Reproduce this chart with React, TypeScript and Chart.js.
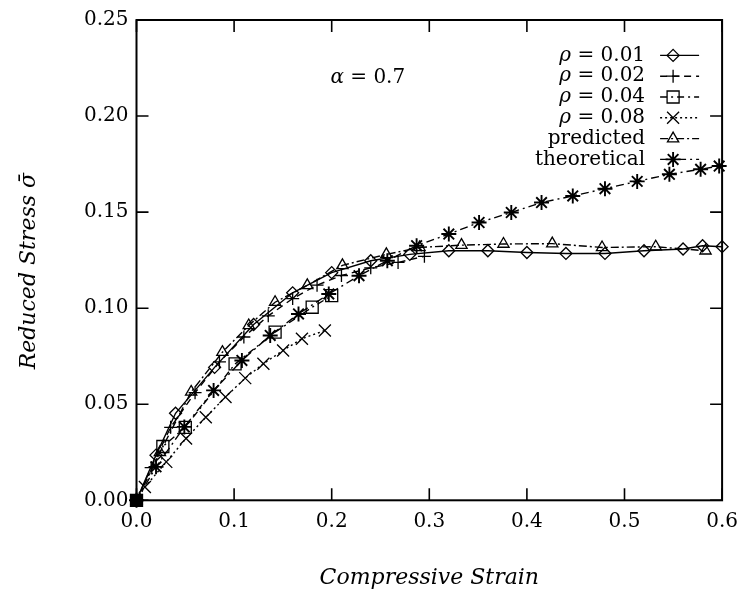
import React, { useEffect, useRef } from 'react';
import { Chart, registerables } from 'chart.js';
import { drawPoint } from 'chart.js/helpers';

Chart.register(...registerables);

// ---- axis ticks ----
const xTicks = [0, 0.1, 0.2, 0.3, 0.4, 0.5, 0.6];
const yTicks = [0, 0.05, 0.1, 0.15, 0.2, 0.25];

// ---- series (strain, reduced stress) ----
const rho001X = [0, 0.02, 0.04, 0.08, 0.12, 0.16, 0.2, 0.24, 0.28, 0.32, 0.36, 0.4, 0.44, 0.48, 0.52, 0.56, 0.58, 0.6];
const rho001Y = [0, 0.0235, 0.0453, 0.0692, 0.0915, 0.108, 0.1185, 0.1247, 0.128, 0.1299, 0.1299, 0.129, 0.1285, 0.1285, 0.1299, 0.1308, 0.1325, 0.132];

const rho002X = [0, 0.015, 0.035, 0.06, 0.085, 0.11, 0.135, 0.16, 0.185, 0.21, 0.24, 0.268, 0.295];
const rho002Y = [0, 0.017, 0.038, 0.056, 0.072, 0.085, 0.096, 0.105, 0.112, 0.117, 0.121, 0.1238, 0.127];

const rho004X = [0, 0.027, 0.05, 0.101, 0.142, 0.18, 0.2];
const rho004Y = [0, 0.028, 0.038, 0.071, 0.0875, 0.1005, 0.1065];

const rho008X = [0, 0.0086, 0.0305, 0.0508, 0.071, 0.0912, 0.1114, 0.13, 0.1502, 0.1695, 0.193];
const rho008Y = [0, 0.0069, 0.02, 0.0322, 0.0432, 0.0538, 0.0636, 0.0711, 0.078, 0.0841, 0.0884];

const predictedX = [0, 0.024, 0.056, 0.088, 0.115, 0.142, 0.175, 0.211, 0.256, 0.29, 0.333, 0.376, 0.426, 0.477, 0.532, 0.583];
const predictedY = [0, 0.025, 0.0564, 0.0771, 0.091, 0.1031, 0.1119, 0.1223, 0.128, 0.1316, 0.1328, 0.1334, 0.1336, 0.1316, 0.132, 0.1299];

const theoreticalX = [0, 0.02, 0.049, 0.079, 0.108, 0.137, 0.166, 0.197, 0.228, 0.257, 0.287, 0.32, 0.351, 0.384, 0.415, 0.447, 0.48, 0.513, 0.546, 0.578, 0.597];
const theoreticalY = [0, 0.0174, 0.0382, 0.0572, 0.0728, 0.0858, 0.097, 0.1074, 0.1169, 0.1247, 0.1325, 0.1386, 0.1446, 0.1498, 0.155, 0.1584, 0.1622, 0.166, 0.1697, 0.1723, 0.174];

const seriesLabels = ['ρ = 0.01', 'ρ = 0.02', 'ρ = 0.04', 'ρ = 0.08', 'predicted', 'theoretical'];

// annotation (data coordinates)
const alphaText = ['α', ' = 0.7'];
const alphaPos = { x: 0.237, y: 0.2197 };

const SERIF = '"DejaVu Serif", "Liberation Serif", serif';

const pts = (xs: number[], ys: number[]) => xs.map((x, i) => ({ x, y: ys[i] }));

function drawMixed(
  ctx: CanvasRenderingContext2D,
  parts: { t: string; italic: boolean }[],
  x: number,
  y: number,
  align: 'right' | 'center',
  size: number
) {
  const fonts = parts.map((p) => `${p.italic ? 'italic ' : ''}${size}px ${SERIF}`);
  let total = 0;
  const widths = parts.map((p, i) => {
    ctx.font = fonts[i];
    const w = ctx.measureText(p.t).width;
    total += w;
    return w;
  });
  let cx = align === 'right' ? x - total : x - total / 2;
  ctx.textAlign = 'left';
  ctx.textBaseline = 'middle';
  ctx.fillStyle = '#000';
  parts.forEach((p, i) => {
    ctx.font = fonts[i];
    ctx.fillText(p.t, cx, y);
    cx += widths[i];
  });
}

const framePlugin = {
  id: 'frameLegend',
  afterDraw(chart: any) {
    const { ctx, chartArea: a, scales } = chart;
    const xs = scales.x;
    const ys = scales.y;
    ctx.save();
    ctx.strokeStyle = '#000';
    ctx.setLineDash([]);
    ctx.lineWidth = 2;
    ctx.strokeRect(a.left, a.top, a.right - a.left, a.bottom - a.top);
    ctx.lineWidth = 1.6;
    ctx.beginPath();
    const tl = 12;
    xs.ticks.forEach((t: any) => {
      const px = xs.getPixelForValue(t.value);
      ctx.moveTo(px, a.bottom);
      ctx.lineTo(px, a.bottom - tl);
      ctx.moveTo(px, a.top);
      ctx.lineTo(px, a.top + tl);
    });
    ys.ticks.forEach((t: any) => {
      const py = ys.getPixelForValue(t.value);
      ctx.moveTo(a.left, py);
      ctx.lineTo(a.left + tl, py);
      ctx.moveTo(a.right, py);
      ctx.lineTo(a.right - tl, py);
    });
    ctx.stroke();

    // alpha annotation
    drawMixed(
      ctx,
      [
        { t: alphaText[0], italic: true },
        { t: alphaText[1], italic: false },
      ],
      xs.getPixelForValue(alphaPos.x),
      ys.getPixelForValue(alphaPos.y),
      'center',
      20
    );

    // legend
    const textRight = a.right - 77;
    const lineStart = a.right - 62;
    const lineEnd = a.right - 23;
    const markX = a.right - 49;
    chart.data.datasets.forEach((ds: any, i: number) => {
      const y = a.top + 35.4 + i * 20.8;
      const label: string = ds.label;
      const parts =
        label.startsWith('ρ')
          ? [
              { t: 'ρ', italic: true },
              { t: label.slice(1), italic: false },
            ]
          : [{ t: label, italic: false }];
      drawMixed(ctx, parts, textRight, y, 'right', 20);
      ctx.strokeStyle = '#000';
      ctx.lineWidth = ds.borderWidth;
      ctx.setLineDash(ds.borderDash || []);
      ctx.beginPath();
      ctx.moveTo(lineStart, y);
      ctx.lineTo(lineEnd, y);
      ctx.stroke();
      ctx.setLineDash([]);
      ctx.fillStyle = 'rgba(0,0,0,0)';
      ctx.lineWidth = ds.pointBorderWidth;
      drawPoint(ctx, { pointStyle: ds.pointStyle, radius: ds.pointRadius, rotation: 0, borderWidth: ds.pointBorderWidth }, markX, y);
    });
    ctx.restore();
  },
};

export default function App() {
  const ref = useRef<HTMLCanvasElement | null>(null);

  useEffect(() => {
    if (!ref.current) return;
    const mk = (label: string, data: any[], pointStyle: string, radius: number, dash: number[], pbw = 1.3) => ({
      label,
      data,
      borderColor: '#000',
      backgroundColor: 'rgba(0,0,0,0)',
      pointBorderColor: '#000',
      pointBackgroundColor: (c: any) => (c.dataIndex === 0 ? '#000' : 'rgba(0,0,0,0)'),
      borderWidth: 1.4,
      pointBorderWidth: pbw,
      borderDash: dash,
      pointStyle,
      pointRadius: radius,
      tension: 0,
      clip: false,
      fill: false,
    });
    const chart = new Chart(ref.current, {
      type: 'line',
      data: {
        datasets: [
          mk(seriesLabels[0], pts(rho001X, rho001Y), 'rectRot', 6, []),
          mk(seriesLabels[1], pts(rho002X, rho002Y), 'cross', 6.5, [7, 5]),
          mk(seriesLabels[2], pts(rho004X, rho004Y), 'rect', 8.5, [7, 4, 2, 4]),
          mk(seriesLabels[3], pts(rho008X, rho008Y), 'crossRot', 8.5, [2, 3]),
          mk(seriesLabels[4], pts(predictedX, predictedY), 'triangle', 6.5, [8, 3, 2, 3]),
          mk(seriesLabels[5], pts(theoreticalX, theoreticalY), 'star', 7.5, [8, 4, 2, 4], 1.9),
        ] as any,
      },
      options: {
        animation: false,
        responsive: false,
        devicePixelRatio: 1,
        layout: { padding: { left: 0, right: 17, top: 18.6, bottom: 0 } },
        plugins: { legend: { display: false }, tooltip: { enabled: false } },
        scales: {
          x: {
            type: 'linear',
            min: 0,
            max: 0.6,
            afterBuildTicks: (s: any) => {
              s.ticks = xTicks.map((v) => ({ value: v }));
            },
            afterFit: (s: any) => {
              s.height = 604 - 500.3;
            },
            grid: { display: false, drawTicks: false },
            border: { display: false },
            ticks: {
              color: '#000',
              font: { family: SERIF, size: 20 },
              padding: 9,
              maxRotation: 0,
              autoSkip: false,
              callback: (v: any) => Number(v).toFixed(1),
            },
            title: {
              display: true,
              text: 'Compressive Strain',
              color: '#000',
              font: { family: SERIF, size: 22, style: 'italic' },
              padding: { top: 0, bottom: 13 },
            },
          },
          y: {
            type: 'linear',
            min: 0,
            max: 0.25,
            afterBuildTicks: (s: any) => {
              s.ticks = yTicks.map((v) => ({ value: v }));
            },
            afterFit: (s: any) => {
              s.width = 136.5;
            },
            grid: { display: false, drawTicks: false },
            border: { display: false },
            ticks: {
              color: '#000',
              font: { family: SERIF, size: 20 },
              padding: 8,
              autoSkip: false,
              callback: (v: any) => Number(v).toFixed(2),
            },
            title: {
              display: true,
              text: 'Reduced Stress \u03C3\u0304\u2003',
              color: '#000',
              font: { family: SERIF, size: 22, style: 'italic' },
              padding: { top: 16, bottom: 0 },
            },
          },
        },
      } as any,
      plugins: [framePlugin],
    });
    return () => chart.destroy();
  }, []);

  return (
    <div style={{ position: 'absolute', left: 0, top: 0, width: 747, height: 604, background: '#fff' }}>
      <canvas ref={ref} width={747} height={604} />
    </div>
  );
}
